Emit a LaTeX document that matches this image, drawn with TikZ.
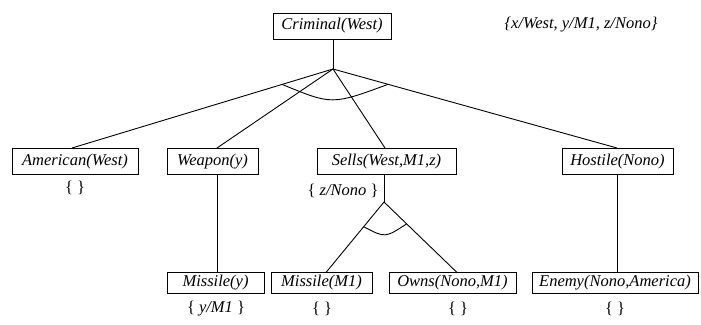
\documentclass[tikz,border=0pt]{standalone}
\usepackage{fontspec}
\setmainfont{Liberation Serif}
\begin{document}
\begin{tikzpicture}[x=1pt,y=-1pt,
  goal/.style={draw,line width=0.9pt,inner sep=0pt,minimum height=26pt,font=\fontsize{16.5}{16.5}\selectfont\itshape},
  goalsm/.style={goal,minimum height=21pt},
  subst/.style={inner sep=0pt,font=\fontsize{16.5}{16.5}\selectfont\itshape},
  edge/.style={line width=0.9pt}]
\useasboundingbox (0,0) rectangle (701,324);
% level 0
\node[goal,minimum width=118pt] (crim) at (332,26) {Criminal(West)};
\node[subst] (topsub) at (581,25) {\{x/West, y/M1, z/Nono\}};
\coordinate (apex) at (333,69);
% level 1
\node[goal,minimum width=126pt] (amer) at (75,161.5) {American(West)};
\node[goal,minimum width=91pt] (weap) at (212.5,161.5) {Weapon(y)};
\node[goal,minimum width=139pt] (sells) at (386.5,161.5) {Sells(West,M1,z)};
\node[goal,minimum width=111pt] (host) at (617.5,161.5) {Hostile(Nono)};
\node[subst] (s1) at (75,188) {\upshape\{ \}};
\node[subst] (s2) at (343,191) {{\upshape\{} z/Nono {\upshape\}}};
\coordinate (subapex) at (384,202);
% level 2
\node[goalsm,minimum width=97pt] (missy) at (215.5,283) {Missile(y)};
\node[goalsm,minimum width=101pt] (missm) at (321.5,283) {Missile(M1)};
\node[goalsm,minimum width=127pt] (owns) at (452.5,283) {Owns(Nono,M1)};
\node[goalsm,minimum width=166pt] (enemy) at (615,283) {Enemy(Nono,America)};
\node[subst] (s3) at (216,309) {{\upshape\{} y/M1 {\upshape\}}};
\node[subst] (s4) at (322,309) {\upshape\{ \}};
\node[subst] (s5) at (458,309) {\upshape\{ \}};
\node[subst] (s6) at (615,309) {\upshape\{ \}};
% connectors
\draw[edge] (crim.south -| apex) -- (apex);
\draw[edge] (apex) -- (72,148) coordinate (amertop);
\draw[edge] (apex) -- (217,148);
\draw[edge] (apex) -- (385,148);
\draw[edge] (apex) -- (617,148) coordinate (hosttop);
\path (apex) -- (amertop) coordinate[pos=0.195] (arcL);
\path (apex) -- (hosttop) coordinate[pos=0.194] (arcR);
\draw[edge] (arcL) .. controls (332,105) .. (arcR);
\draw[edge] (missy.north -| 217,0) -- (weap.south -| 217,0);
\draw[edge] (host.south) -- (host.south |- enemy.north);
\draw[edge] (sells.south -| subapex) -- (subapex);
\draw[edge] (subapex) -- (326,272.5) coordinate (mmtop);
\draw[edge] (subapex) -- (457,272.5) coordinate (owtop);
\path (subapex) -- (mmtop) coordinate[pos=0.35] (sarcL);
\path (subapex) -- (owtop) coordinate[pos=0.31] (sarcR);
\draw[edge] (sarcL) .. controls (385,238) .. (sarcR);
\end{tikzpicture}
\end{document}
